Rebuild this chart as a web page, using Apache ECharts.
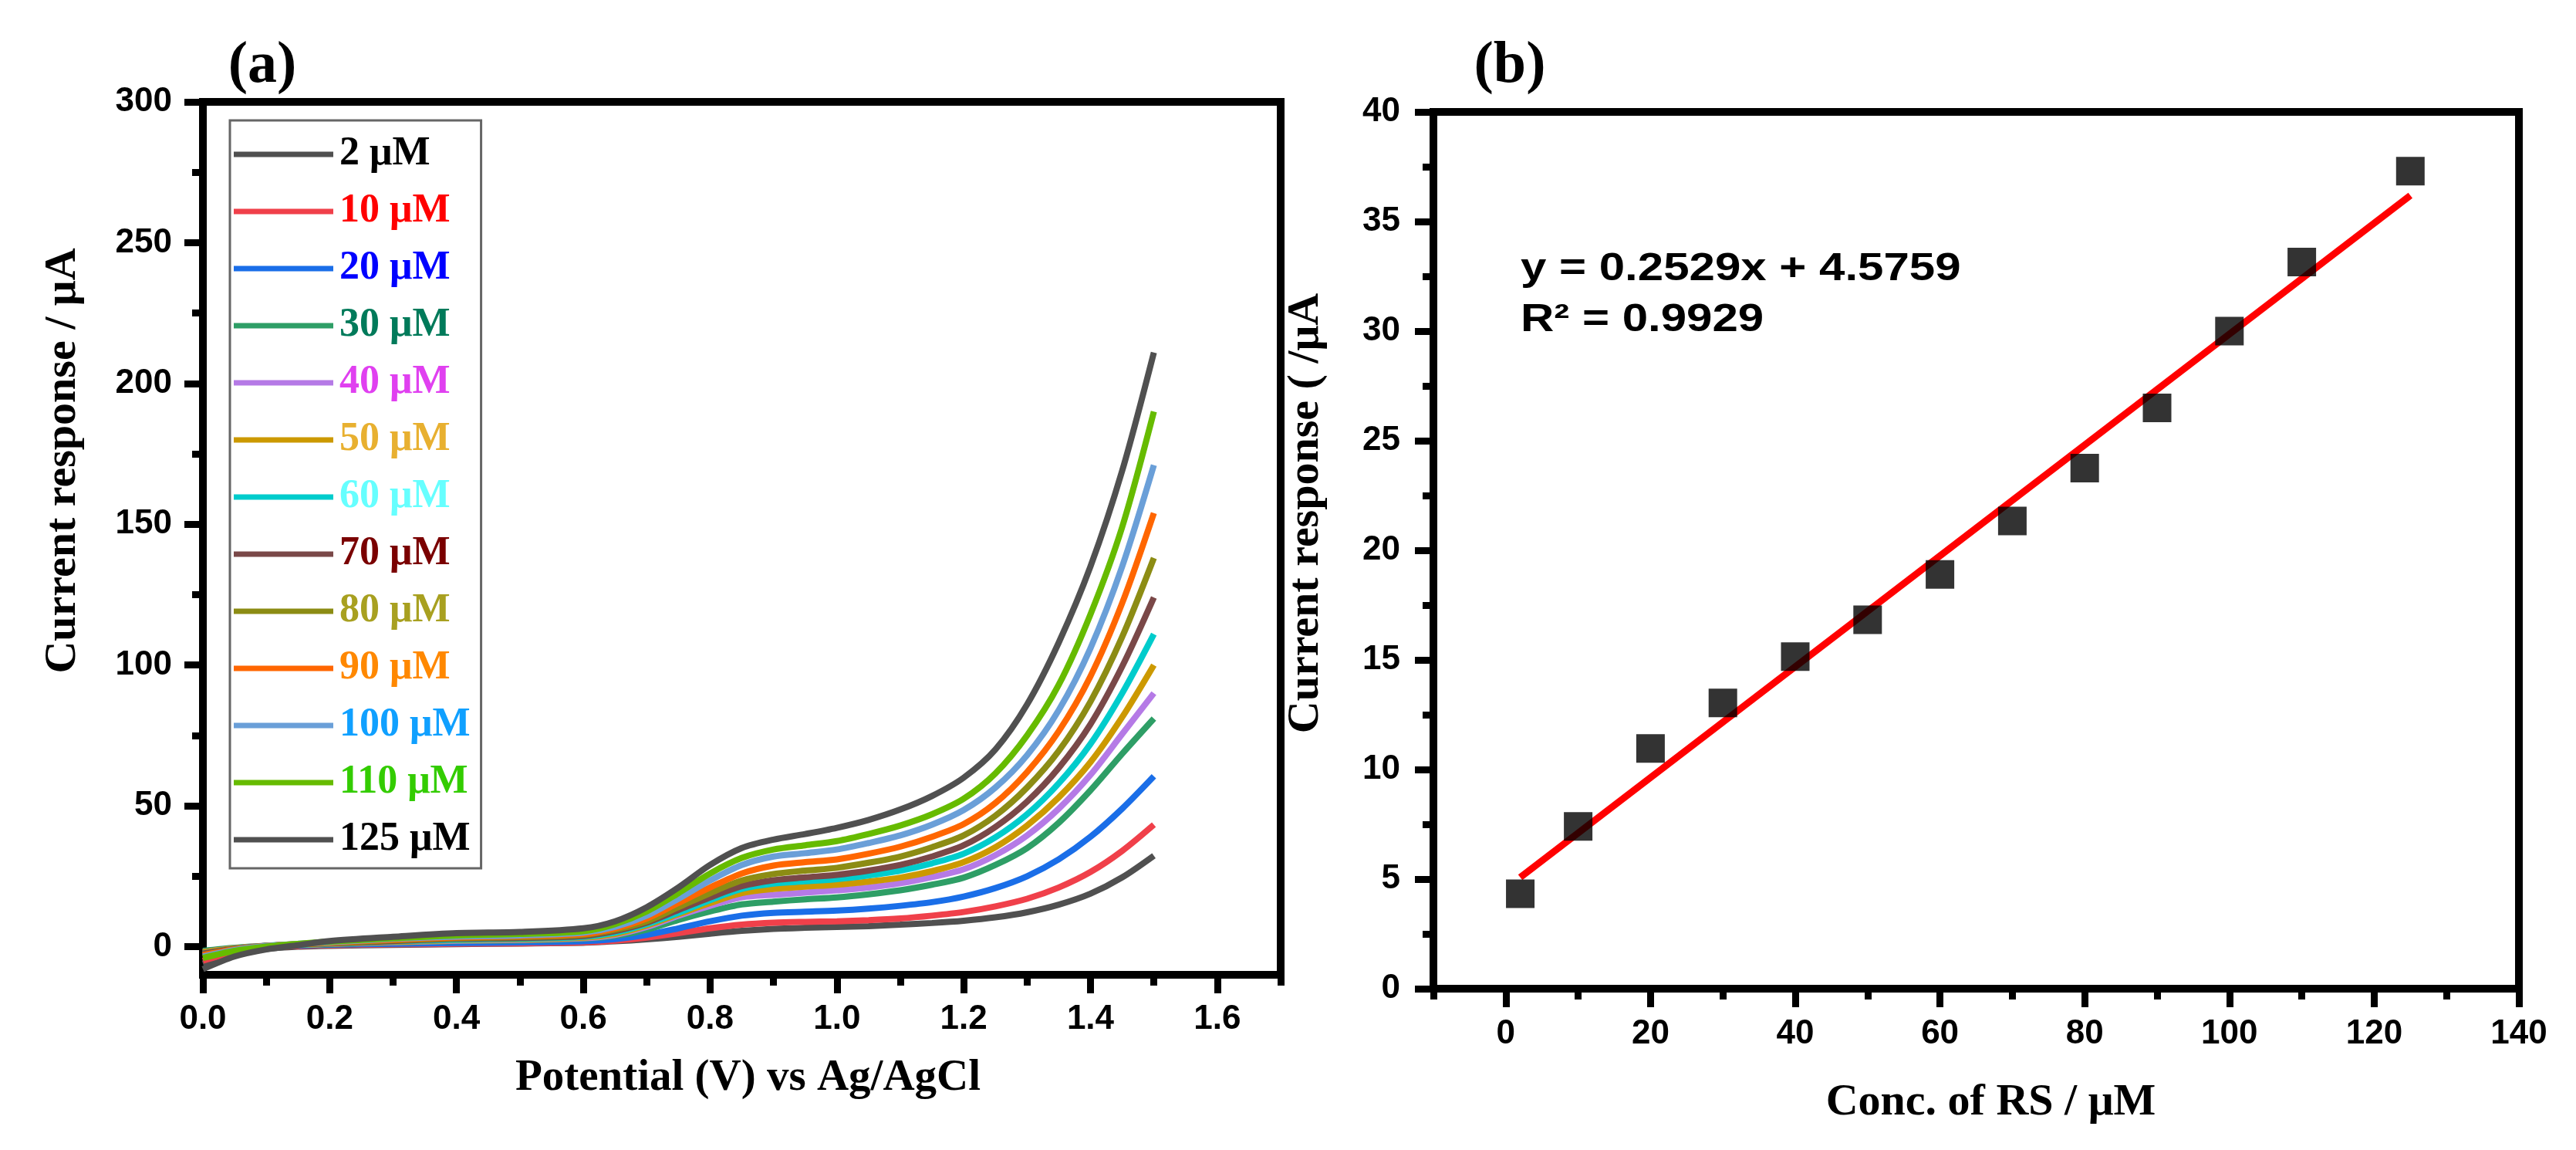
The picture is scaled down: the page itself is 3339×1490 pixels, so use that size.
<!DOCTYPE html>
<html>
<head>
<meta charset="utf-8">
<title>LSV response and calibration</title>
<script src="https://cdn.jsdelivr.net/npm/echarts@6/dist/echarts.min.js"></script>
<style>
  html, body { margin: 0; padding: 0; background: #fff; }
  #chart { width: 3339px; height: 1490px; }
</style>
</head>
<body>
<div id="chart"></div>
<script>
// (a) potential points (V) where the curves were read
const potential = [0, 0.05, 0.1, 0.15, 0.2, 0.3, 0.4, 0.5, 0.6, 0.65, 0.7, 0.75, 0.8, 0.85, 0.9, 0.95, 1.0, 1.05, 1.1, 1.15, 1.2, 1.25, 1.3, 1.35, 1.4, 1.45, 1.5];

// (a) current response (μA) for each concentration
const cur2   = [-6, -2.5, -0.8, 0, 0.3, 0.6, 0.9, 1.1, 1.4, 1.9, 2.6, 3.5, 4.6, 5.6, 6.3, 6.7, 7.0, 7.3, 7.8, 8.4, 9.2, 10.4, 12.2, 14.9, 18.8, 24.6, 32.3];
const cur10  = [-5, -2, -0.5, 0.2, 0.5, 0.8, 1, 1.2, 1.5, 2.1, 3.2, 4.8, 6.5, 7.8, 8.5, 8.8, 9, 9.4, 10, 11, 12.3, 14.3, 17, 21, 26.5, 34, 43.3];
const cur20  = [-3, -1, 0, 0.4, 0.7, 1, 1.3, 1.5, 1.9, 2.7, 4.2, 6.5, 9, 11, 12, 12.4, 12.8, 13.5, 14.5, 15.8, 17.8, 20.8, 25, 31, 39, 49, 60.5];
const cur30  = [-1.5, -0.4, 0.3, 0.6, 0.9, 1.5, 2, 2.2, 2.8, 3.8, 6, 9.5, 12.5, 15, 16, 16.8, 17.5, 18.6, 20, 22, 24.5, 29, 35, 44, 55.5, 68.5, 81];
const cur40  = [-2, -0.6, 0.3, 0.6, 1, 1.6, 2.1, 2.4, 3, 4.2, 7, 11, 14.5, 17.5, 18.4, 19.2, 20, 21, 22.5, 24.7, 27.5, 32.5, 39.5, 49, 61, 75.5, 90];
const cur50  = [-2, -0.6, 0.3, 0.7, 1, 1.7, 2.3, 2.6, 3.2, 4.5, 7.5, 11.5, 15.5, 19, 20.5, 21.3, 22, 23.1, 24.5, 26.8, 30, 35.3, 43, 53, 65.5, 81.5, 100];
const cur60  = [-2.5, -0.8, 0.3, 0.7, 1.1, 1.9, 2.5, 2.8, 3.5, 5, 8, 12, 16.5, 20.5, 22.4, 23.2, 24, 25.3, 27, 29.6, 33, 38.8, 47, 58, 72, 90, 111];
const cur70  = [-2.5, -0.8, 0.3, 0.8, 1.2, 2, 2.8, 3.1, 3.8, 5.5, 8.5, 13, 17.5, 21.5, 23.6, 24.6, 25.5, 27, 29, 32, 36, 42.5, 51.5, 63.5, 79, 99.5, 124];
const cur80  = [-3, -1, 0.2, 0.8, 1.3, 2.3, 3, 3.4, 4.2, 6, 9, 14, 19, 23.5, 25.8, 27, 28, 29.8, 32, 35.3, 39.5, 46.5, 56.5, 69.5, 87, 110, 138];
const cur90  = [-3, -1, 0.2, 0.9, 1.4, 2.5, 3.3, 3.7, 4.5, 6.5, 10, 15.5, 21, 26, 28.8, 30, 31, 33, 35.5, 39, 43.5, 51, 62, 76.5, 96, 122, 154];
const cur100 = [-3.5, -1.2, 0.2, 1, 1.6, 2.8, 3.6, 4, 5, 7, 11, 17, 23.5, 29, 32, 33.2, 34.5, 36.8, 39.5, 43.3, 48.5, 56.5, 68, 84, 106, 135, 171];
const cur110 = [-4, -1.5, 0, 1, 1.8, 3, 4, 4.5, 5.5, 8, 12.5, 19, 26, 31.5, 34.5, 36, 37.5, 40, 43, 47, 52.5, 61.5, 75, 93, 118, 149, 190];
const cur125 = [-8, -3.5, -1, 0.5, 2, 3.5, 4.8, 5.2, 6.5, 9, 14, 21, 29, 35, 38, 40, 42.2, 45, 48.7, 53.5, 60, 70, 86, 108, 135, 169, 211];

const curveNames = ['2 μM', '10 μM', '20 μM', '30 μM', '40 μM', '50 μM', '60 μM', '70 μM', '80 μM', '90 μM', '100 μM', '110 μM', '125 μM'];
const curveData = [cur2, cur10, cur20, cur30, cur40, cur50, cur60, cur70, cur80, cur90, cur100, cur110, cur125];
const lineColors = ['#505050', '#f0404a', '#1a6ee8', '#2e9e66', '#b57ae6', '#cc9900', '#00cccc', '#7a4848', '#8c8c14', '#ff6600', '#6a9fd8', '#66bb00', '#505050'];
const labelColors = ['#000000', '#ff0000', '#0000ff', '#007a5a', '#e040f0', '#e8b030', '#66ffff', '#7a0000', '#a8a020', '#ff8800', '#10a0ff', '#33cc00', '#000000'];

// (b) calibration points
const concRS = [2, 10, 20, 30, 40, 50, 60, 70, 80, 90, 100, 110, 125];
const response = [4.33, 7.4, 10.96, 13.04, 15.15, 16.83, 18.9, 21.34, 23.75, 26.5, 30.0, 33.15, 37.3];
// ends of the red fit line, as drawn
const fitX = [2, 125];
const fitY = [5.08, 36.19];

// axis ranges and tick values
const aXRange = [0, 1.7];
const aYRange = [-10, 300];
const bXRange = [-10, 140];
const bYRange = [0, 40];
const aXTicks = [0, 0.2, 0.4, 0.6, 0.8, 1.0, 1.2, 1.4, 1.6];
const aXMinor = [0.1, 0.3, 0.5, 0.7, 0.9, 1.1, 1.3, 1.5, 1.7];
const aYTicks = [0, 50, 100, 150, 200, 250, 300];
const aYMinor = [25, 75, 125, 175, 225, 275];
const bXTicks = [0, 20, 40, 60, 80, 100, 120, 140];
const bXMinor = [-10, 10, 30, 50, 70, 90, 110, 130];
const bYTicks = [0, 5, 10, 15, 20, 25, 30, 35, 40];
const bYMinor = [2.5, 7.5, 12.5, 17.5, 22.5, 27.5, 32.5, 37.5];

const SANS = 'Liberation Sans, Arial, sans-serif';
const SERIF = 'Liberation Serif, Times New Roman, serif';
const FRAME = 10;

// main axis: line, labels and long ticks
function mainAxis(gridIndex, position, range, ticks, fmt, margin) {
  return {
    type: 'value', gridIndex, position, min: range[0], max: range[1],
    splitLine: {show: false},
    axisLine: {show: true, onZero: false, lineStyle: {color: '#000', width: FRAME}},
    axisTick: {show: true, inside: false, length: 24, customValues: ticks,
      lineStyle: {color: '#000', width: 9}},
    axisLabel: {show: true, customValues: ticks, margin, formatter: fmt,
      fontFamily: SANS, fontWeight: 'bold', fontSize: 44, color: '#000'}
  };
}
// overlay axis that only draws the short minor ticks
function minorAxis(gridIndex, position, range, ticks) {
  return {
    type: 'value', gridIndex, position, min: range[0], max: range[1],
    splitLine: {show: false},
    axisLine: {show: false, onZero: false},
    axisTick: {show: true, inside: false, length: 14, customValues: ticks,
      lineStyle: {color: '#000', width: 9}},
    axisLabel: {show: false}
  };
}

const chart = echarts.init(document.getElementById('chart'));

const lineSeries = curveNames.map((name, i) => ({
  name,
  type: 'line',
  xAxisIndex: 0,
  yAxisIndex: 0,
  data: potential.map((v, j) => [v, curveData[i][j]]),
  smooth: 0.3,
  symbol: 'none',
  lineStyle: {color: lineColors[i], width: 8},
  itemStyle: {color: lineColors[i]},
  z: 2 + i
}));

chart.setOption({
  animation: false,
  backgroundColor: '#fff',
  grid: [
    {left: 263, right: 3339 - 1660, top: 132, bottom: 1490 - 1263,
      show: true, borderColor: '#000', borderWidth: FRAME, backgroundColor: 'transparent'},
    {left: 1858, right: 3339 - 3265, top: 145, bottom: 1490 - 1281,
      show: true, borderColor: '#000', borderWidth: FRAME, backgroundColor: 'transparent'}
  ],
  xAxis: [
    Object.assign(mainAxis(0, 'bottom', aXRange, aXTicks, v => v.toFixed(1), 36), {
      name: 'Potential (V) vs Ag/AgCl', nameLocation: 'middle', nameGap: 106,
      nameTextStyle: {fontFamily: SERIF, fontWeight: 'bold', fontSize: 57, color: '#000', padding: [0, 0, 0, 16]}
    }),
    minorAxis(0, 'bottom', aXRange, aXMinor),
    Object.assign(mainAxis(1, 'bottom', bXRange, bXTicks, v => String(v), 37), {
      name: 'Conc. of RS / μM', nameLocation: 'middle', nameGap: 119,
      nameTextStyle: {fontFamily: SERIF, fontWeight: 'bold', fontSize: 58, color: '#000', padding: [0, 0, 0, 38]}
    }),
    minorAxis(1, 'bottom', bXRange, bXMinor)
  ],
  yAxis: [
    mainAxis(0, 'left', aYRange, aYTicks, v => String(v), 40),
    minorAxis(0, 'left', aYRange, aYMinor),
    mainAxis(1, 'left', bYRange, bYTicks, v => String(v), 43),
    minorAxis(1, 'left', bYRange, bYMinor)
  ],
  legend: {
    orient: 'vertical',
    left: 298,
    top: 156,
    padding: [18, 14, 11, 5],
    itemGap: 22,
    itemWidth: 129,
    itemHeight: 40,
    icon: 'path://M0,0H129V7H0Z',
    borderColor: '#666',
    borderWidth: 3,
    backgroundColor: '#fff',
    data: curveNames.map((name, i) => ({name, textStyle: {color: labelColors[i]}})),
    textStyle: {fontFamily: SERIF, fontWeight: 'bold', fontSize: 52, padding: [0, 0, 0, 3]}
  },
  graphic: [
    {type: 'text', x: 340, y: 86, z: 100,
      style: {text: '(a)', font: 'bold 76px ' + SERIF, fill: '#000', align: 'center', verticalAlign: 'middle'}},
    {type: 'text', x: 1957, y: 86, z: 100,
      style: {text: '(b)', font: 'bold 76px ' + SERIF, fill: '#000', align: 'center', verticalAlign: 'middle'}},
    {type: 'text', x: 82, y: 597, rotation: Math.PI / 2, z: 100,
      style: {text: 'Current response / μA', font: 'bold 58px ' + SERIF, fill: '#000', align: 'center', verticalAlign: 'middle'}},
    {type: 'text', x: 1693, y: 665, rotation: Math.PI / 2, z: 100,
      style: {text: 'Current response ( /μA', font: 'bold 58px ' + SERIF, fill: '#000', align: 'center', verticalAlign: 'middle'}},
    {type: 'text', x: 1971, y: 324, scaleX: 1.2, z: 100,
      style: {text: 'y = 0.2529x + 4.5759', font: 'bold 50px ' + SANS, fill: '#000', align: 'left', verticalAlign: 'top'}},
    {type: 'text', x: 1971, y: 390, scaleX: 1.2, z: 100,
      style: {text: 'R² = 0.9929', font: 'bold 50px ' + SANS, fill: '#000', align: 'left', verticalAlign: 'top'}}
  ],
  series: lineSeries.concat([
    {
      name: 'fit',
      type: 'line',
      xAxisIndex: 2,
      yAxisIndex: 2,
      data: fitX.map((x, i) => [x, fitY[i]]),
      symbol: 'none',
      lineStyle: {color: '#ff0000', width: 9},
      z: 3
    },
    {
      name: 'RS',
      type: 'scatter',
      xAxisIndex: 2,
      yAxisIndex: 2,
      data: concRS.map((c, i) => [c, response[i]]),
      symbol: 'rect',
      symbolSize: 37,
      itemStyle: {color: '#000'},
      z: 5
    }
  ])
});
</script>
</body>
</html>
